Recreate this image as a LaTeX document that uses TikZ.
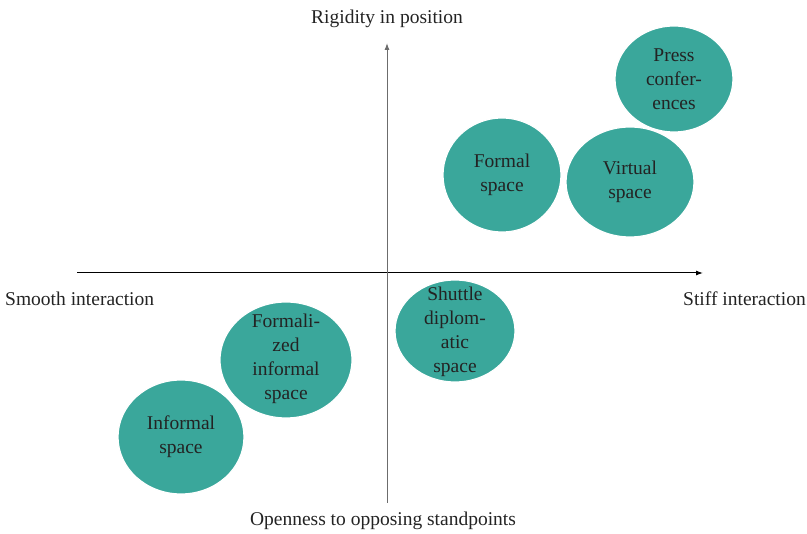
\documentclass[tikz,border=0pt]{standalone}
\usepackage{fontspec}
\usetikzlibrary{arrows.meta}
\setmainfont{LiberationSerif}[Extension=.ttf, UprightFont=*-Regular]
\definecolor{teal}{HTML}{3AA79B}
\definecolor{ink}{HTML}{232323}
\begin{document}
\begin{tikzpicture}[x=1pt,y=-1pt,
  blob/.style={fill=teal, draw=white, line width=1.2pt},
  blobtext/.style={text=ink, font=\rmfamily\fontsize{19.5}{23.8}\selectfont, align=center, inner sep=0pt},
  axislabel/.style={text=ink, font=\rmfamily\fontsize{19.5}{23}\selectfont, inner sep=0pt},
  arr/.style={-{Latex[length=7pt,width=5pt]}, line width=1pt}]
\useasboundingbox (0,0) rectangle (807,534);
% axes
\coordinate (xl) at (77,273);
\coordinate (xr) at (703,273);
\coordinate (yb) at (387,503);
\coordinate (yt) at (387,43);
\draw[arr, black] (xl) -- (xr);
\draw[arr, gray!85!black] (yb) -- (yt);
% axis labels
\node[axislabel] (top) at (387,19) {Rigidity in position};
\node[axislabel] (bot) at (383,521) {Openness to opposing standpoints};
\node[axislabel, anchor=west] (left) at (5,299) {Smooth interaction};
\node[axislabel, anchor=east] (right) at (806,299) {Stiff interaction};
% spaces
\path[blob] (674,79) ellipse [x radius=59, y radius=53];
\node[blobtext] (press) at (674,79) {Press\\confer-\\ences};
\path[blob] (502,175) ellipse [x radius=59, y radius=57];
\node[blobtext] (formal) at (502,175) {Formal\\space};
\path[blob] (630,182) ellipse [x radius=64, y radius=55];
\node[blobtext] (virtual) at (630,182) {Virtual\\space};
\path[blob] (455,331) ellipse [x radius=60, y radius=51];
\node[blobtext] (shuttle) at (455,332) {Shuttle\\diplom-\\atic\\space};
\path[blob] (286,360) ellipse [x radius=66, y radius=58];
\node[blobtext] (fis) at (286,359) {Formali-\\zed\\informal\\space};
\path[blob] (181,437) ellipse [x radius=63, y radius=57];
\node[blobtext] (inf) at (181,437) {Informal\\space};
\end{tikzpicture}
\end{document}
